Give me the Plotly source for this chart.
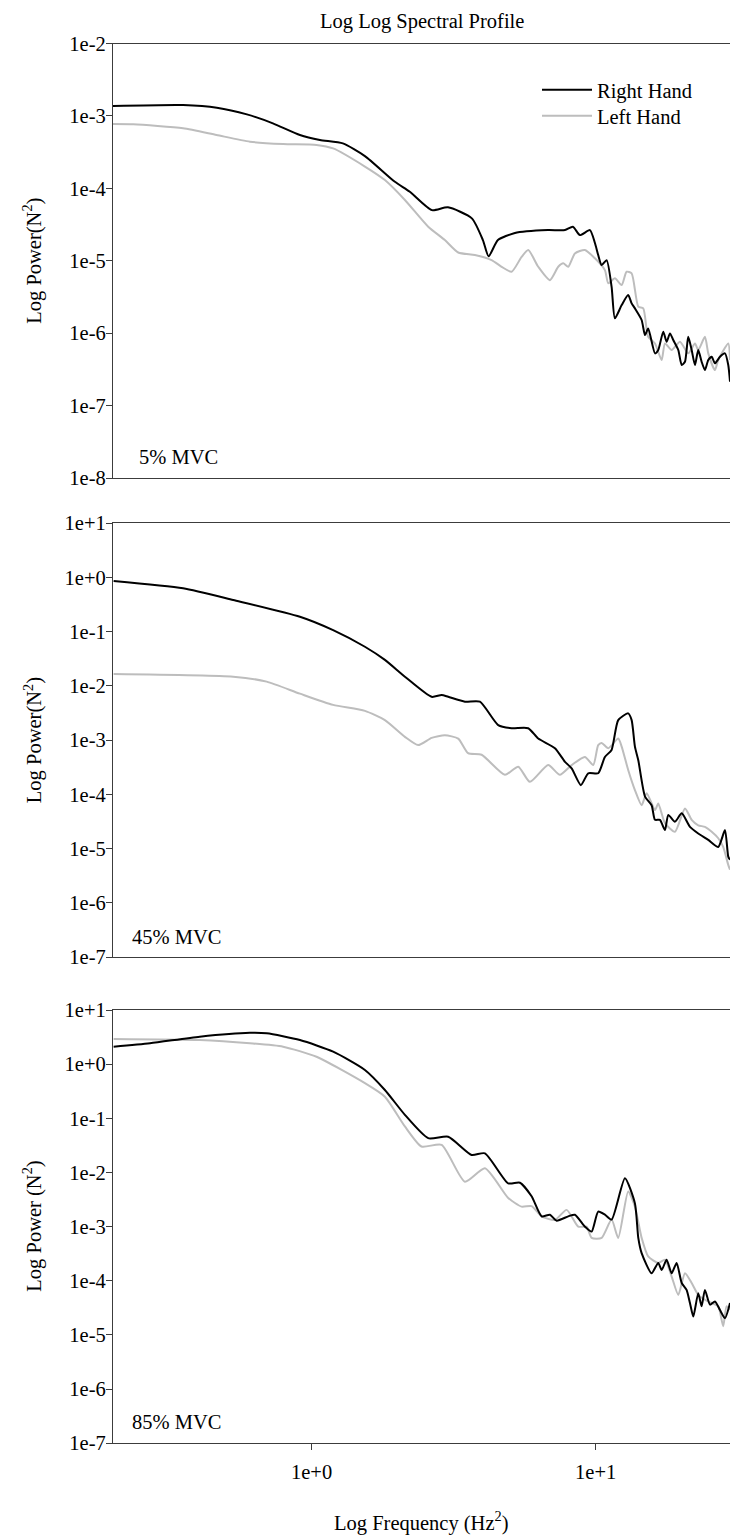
import plotly.graph_objects as go

W, H = 730, 1536
ML = 113  # left margin in px
PW = W - ML

# ---------------- data (frequency in Hz, power in N^2) ----------------
# Panel 1: 5% MVC
f5_right = [0.2, 0.353, 0.464, 0.592, 0.731, 0.910, 1.070, 1.289, 1.541, 1.965, 2.218, 2.652, 3.02, 3.667,
            4.01, 4.2, 4.529, 5.198, 6.793, 7.80, 8.318, 8.806, 9.55, 9.943, 10.21, 10.50, 10.93, 11.38,
            11.69, 12.35, 13.02, 13.39, 13.75, 14.52, 14.92, 15.31, 16.18, 16.61, 17.30, 17.78, 18.27,
            18.76, 19.54, 20.09, 20.63, 21.18, 21.78, 22.37, 22.97, 23.61, 24.25, 24.92, 25.62, 26.30,
            27.40, 28.53, 29.30, 29.72]
p5_right = [1.37e-3, 1.41e-3, 1.30e-3, 1.05e-3, 7.9e-4, 5.45e-4, 4.65e-4, 4.17e-4, 2.79e-4, 1.23e-4, 8.97e-5,
            5.0e-5, 5.47e-5, 3.85e-5, 1.93e-5, 1.15e-5, 1.93e-5, 2.42e-5, 2.65e-5, 2.65e-5, 2.95e-5, 2.26e-5,
            2.65e-5, 1.76e-5, 1.2e-5, 8.7e-6, 1.02e-5, 4.38e-6, 1.6e-6, 2.44e-6, 3.36e-6, 2.58e-6, 2.2e-6,
            1.52e-6, 9.4e-7, 1.16e-6, 5.26e-7, 5.85e-7, 1.05e-6, 7.6e-7, 9.93e-7, 8.04e-7, 5.85e-7, 3.63e-7,
            4.03e-7, 8.9e-7, 5.85e-7, 3.63e-7, 5.85e-7, 4.03e-7, 3.09e-7, 4.25e-7, 4.72e-7, 3.83e-7, 4.72e-7,
            5.26e-7, 3.63e-7, 2.14e-7]
f5_left = [0.2, 0.2355, 0.353, 0.463, 0.607, 0.794, 1.041, 1.191, 1.541, 1.812, 2.131, 2.574, 2.946, 3.283,
           3.758, 4.303, 4.666, 5.06, 5.487, 5.790, 6.280, 6.904, 7.385, 7.69, 8.009, 8.453, 9.164, 9.943,
           10.78, 11.08, 11.69, 12.35, 12.85, 13.39, 14.13, 14.71, 15.31, 16.18, 17.08, 17.54, 18.52, 19.81,
           21.18, 22.37, 22.97, 24.25, 24.92, 26.30, 27.02, 29.30, 29.72]
p5_left = [7.73e-4, 7.66e-4, 6.75e-4, 5.45e-4, 4.41e-4, 4.09e-4, 3.98e-4, 3.56e-4, 2.0e-4, 1.3e-4, 6.9e-5,
           2.95e-5, 1.93e-5, 1.3e-5, 1.2e-5, 1.02e-5, 8.26e-6, 7.05e-6, 1.13e-5, 1.41e-5, 8.26e-6, 5.4e-6,
           8.26e-6, 9.2e-6, 8.26e-6, 1.26e-5, 1.41e-5, 1.08e-5, 7.43e-6, 4.88e-6, 5.71e-6, 4.61e-6, 7.05e-6,
           6.68e-6, 2.32e-6, 2.2e-6, 8.9e-7, 7.2e-7, 4.25e-7, 7.2e-7, 5.85e-7, 7.6e-7, 5.26e-7, 7.2e-7,
           5.85e-7, 8.9e-7, 5.26e-7, 3.09e-7, 4.25e-7, 7.2e-7, 4.25e-7]

# Panel 2: 45% MVC
f45_right = [0.201, 0.353, 0.530, 0.910, 1.191, 1.541, 1.812, 2.131, 2.646, 2.869, 3.027, 3.467, 3.913, 4.539,
             5.06, 5.79, 6.28, 7.191, 7.80, 8.233, 8.873, 9.418, 10.21, 10.78, 11.38, 12.01, 13.02, 13.39,
             13.75, 14.13, 14.92, 15.74, 16.18, 16.84, 17.54, 18.02, 19.02, 20.09, 21.48, 22.97, 24.92, 27.02,
             28.53, 29.30, 29.72]
p45_right = [0.861, 0.631, 0.385, 0.189, 0.107, 0.0528, 0.0302, 0.0148, 6.3e-3, 6.8e-3, 6.3e-3, 5.13e-3,
             5.13e-3, 1.9e-3, 1.66e-3, 1.66e-3, 1.07e-3, 7.1e-4, 3.98e-4, 3.02e-4, 1.48e-4, 2.45e-4, 2.45e-4,
             4.9e-4, 6.6e-4, 2.34e-3, 3.12e-3, 2.34e-3, 7.6e-4, 4.27e-4, 9.1e-5, 6.3e-5, 3.39e-5, 3.39e-5,
             2.19e-5, 4.17e-5, 3.13e-5, 4.47e-5, 2.51e-5, 1.9e-5, 1.45e-5, 1.07e-5, 2.19e-5, 7.1e-6, 6.2e-6]
f45_left = [0.201, 0.530, 0.695, 0.910, 1.191, 1.541, 1.812, 2.131, 2.373, 2.646, 2.946, 3.283, 3.556, 3.968,
            4.793, 5.34, 5.87, 6.808, 7.48, 8.233, 9.164, 9.806, 10.21, 10.50, 11.08, 12.01, 12.35, 13.02,
            13.75, 14.52, 15.12, 16.18, 16.61, 17.54, 19.02, 20.63, 21.78, 22.97, 24.25, 25.62, 27.02, 28.12,
            29.30, 29.72]
p45_left = [0.0166, 0.0148, 0.012, 7.2e-3, 4.47e-3, 3.47e-3, 2.34e-3, 1.15e-3, 8.1e-4, 1.1e-3, 1.23e-3,
            1.07e-3, 5.75e-4, 5.37e-4, 2.29e-4, 3.24e-4, 1.7e-4, 3.47e-4, 2.29e-4, 3.47e-4, 4.9e-4, 3.47e-4,
            8.1e-4, 8.9e-4, 7.1e-4, 1.07e-3, 7.6e-4, 2.82e-4, 1.2e-4, 6.3e-5, 1.05e-4, 5.13e-5, 6.8e-5,
            2.95e-5, 2.04e-5, 5.5e-5, 3.39e-5, 2.69e-5, 2.51e-5, 2.04e-5, 1.55e-5, 1.07e-5, 5.0e-6, 4.07e-6]

# Panel 3: 85% MVC
f85_right = [0.201, 0.270, 0.404, 0.607, 0.695, 0.910, 1.191, 1.541, 1.812, 2.131, 2.574, 3.027, 3.659, 4.076,
             4.923, 5.414, 5.951, 6.456, 6.904, 7.291, 8.009, 8.453, 9.164, 9.68, 10.21, 10.78, 11.38, 12.68,
             13.75, 14.13, 14.52, 15.74, 16.61, 17.08, 17.78, 18.52, 19.28, 20.09, 20.90, 21.48, 22.07, 22.97,
             23.61, 24.25, 25.27, 26.30, 27.40, 28.53, 29.72]
p85_right = [2.10, 2.43, 3.22, 3.80, 3.72, 2.79, 1.70, 0.782, 0.334, 0.116, 0.043, 0.0457, 0.0211, 0.0226,
             6.3e-3, 6.46e-3, 3.63e-3, 1.55e-3, 1.66e-3, 1.29e-3, 1.55e-3, 1.66e-3, 1.0e-3, 8.1e-4, 1.9e-3,
             1.66e-3, 1.35e-3, 7.85e-3, 2.69e-3, 6.2e-4, 3.24e-4, 1.38e-4, 2.14e-4, 1.58e-4, 2.45e-4, 1.38e-4,
             2.14e-4, 9.1e-5, 6.8e-5, 3.89e-5, 2.19e-5, 5.9e-5, 3.39e-5, 6.8e-5, 3.63e-5, 4.17e-5, 2.88e-5,
             2.04e-5, 3.89e-5]
f85_left = [0.201, 0.404, 0.607, 0.794, 1.041, 1.541, 1.812, 2.131, 2.438, 2.869, 3.467, 4.076, 4.923, 5.487,
            5.951, 6.456, 7.191, 7.907, 8.685, 9.292, 9.68, 10.50, 11.38, 12.01, 13.02, 13.75, 14.52, 15.31,
            16.61, 17.54, 18.52, 19.54, 20.63, 21.78, 22.97, 24.25, 25.62, 27.02, 28.12, 28.91, 29.72]
p85_left = [2.92, 2.79, 2.43, 2.10, 1.37, 0.447, 0.251, 0.0708, 0.0302, 0.0324, 6.76e-3, 0.012, 3.39e-3,
            2.34e-3, 2.4e-3, 1.55e-3, 1.33e-3, 2.04e-3, 1.0e-3, 1.0e-3, 6.2e-4, 6.2e-4, 1.35e-3, 6.2e-4,
            4.47e-3, 2.34e-3, 6.2e-4, 2.82e-4, 2.14e-4, 2.45e-4, 1.2e-4, 5.5e-5, 1.38e-4, 9.1e-5, 5.5e-5,
            4.47e-5, 3.89e-5, 3.39e-5, 1.45e-5, 3.39e-5, 2.92e-5]

panel_labels = ["5% MVC", "45% MVC", "85% MVC"]
y_titles = ["Log Power(N<sup>2</sup>)", "Log Power(N<sup>2</sup>)", "Log Power (N<sup>2</sup>)"]
y_tick_exps = [[-8, -7, -6, -5, -4, -3, -2], [-7, -6, -5, -4, -3, -2, -1, 0, 1], [-7, -6, -5, -4, -3, -2, -1, 0, 1]]
x_tick_vals = [1, 10]
x_tick_text = ["1e+0", "1e+1"]
title_text = "Log Log Spectral Profile"
x_title = "Log Frequency (Hz<sup>2</sup>)"
series_names = ["Right Hand", "Left Hand"]

# ---------------- layout geometry (pixels) ----------------
panel_px = [(43.5, 478.0), (523.3, 957.0), (1010.0, 1443.3)]  # (top, bottom)
FONT = "Liberation Serif"
FS = 20.5
AX_COLOR = "#3c3c3c"
RIGHT_COLOR = "#000000"
LEFT_COLOR = "#bdbdbd"


def py(v):
    return 1 - v / H


def px(v):
    return (v - ML) / PW


def exp_label(e):
    return "1e%+d" % e if e >= 0 else "1e-%d" % (-e)


data = [
    (f5_right, p5_right, f5_left, p5_left),
    (f45_right, p45_right, f45_left, p45_left),
    (f85_right, p85_right, f85_left, p85_left),
]

fig = go.Figure()
for i, (fr, pr, fl, pl) in enumerate(data):
    sfx = "" if i == 0 else str(i + 1)
    fig.add_trace(go.Scatter(x=fl, y=pl, mode="lines", name=series_names[1],
                             line=dict(color=LEFT_COLOR, width=2, shape="spline", smoothing=0.6),
                             xaxis="x" + sfx, yaxis="y" + sfx, showlegend=(i == 0), legend="legend2"))
    fig.add_trace(go.Scatter(x=fr, y=pr, mode="lines", name=series_names[0],
                             line=dict(color=RIGHT_COLOR, width=2, shape="spline", smoothing=0.6),
                             xaxis="x" + sfx, yaxis="y" + sfx, showlegend=(i == 0), legend="legend"))

leg_common = dict(xanchor="left", yanchor="middle", bgcolor="rgba(0,0,0,0)",
                  font=dict(family=FONT, size=FS, color="black"), itemwidth=50)
layout = dict(
    width=W, height=H, autosize=False,
    margin=dict(l=ML, r=0, t=0, b=0, pad=0, autoexpand=False),
    paper_bgcolor="white", plot_bgcolor="white",
    font=dict(family=FONT, size=FS, color="black"),
    showlegend=True,
    legend=dict(x=px(537), y=py(90), **leg_common),
    legend2=dict(x=px(537), y=py(116), **leg_common),
)

for i in range(3):
    sfx = "" if i == 0 else str(i + 1)
    top, bot = panel_px[i]
    exps = y_tick_exps[i]
    last = i == 2
    layout["xaxis" + sfx] = dict(
        type="log", range=[-0.699, 1.473], domain=[0, 1], anchor="y" + sfx, automargin=False,
        showline=True, linecolor=AX_COLOR, linewidth=1.3, mirror=True,
        showgrid=False, zeroline=False,
        ticks="outside" if last else "", ticklen=6, tickcolor=AX_COLOR, tickwidth=1,
        tickvals=x_tick_vals, ticktext=x_tick_text if last else ["", ""],
        showticklabels=last, ticklabelstandoff=4,
        tickfont=dict(family=FONT, size=FS, color="black"),
    )
    layout["yaxis" + sfx] = dict(
        type="log", range=[exps[0], exps[-1]], domain=[py(bot), py(top)], anchor="x" + sfx, automargin=False,
        showline=True, linecolor=AX_COLOR, linewidth=1.3,
        showgrid=False, zeroline=False,
        ticks="outside", ticklen=6, tickcolor=AX_COLOR, tickwidth=1,
        tickvals=[10.0 ** e for e in exps], ticktext=[exp_label(e) for e in exps],
        ticklabelstandoff=-4,
        tickfont=dict(family=FONT, size=FS, color="black"),
    )

annotations = [
    dict(text=title_text, x=0.5, y=py(21), xref="paper", yref="paper", showarrow=False,
         xanchor="center", yanchor="middle", font=dict(family=FONT, size=FS, color="black")),
    dict(text=x_title, x=0.5, y=py(1521), xref="paper", yref="paper", showarrow=False,
         xanchor="center", yanchor="middle", font=dict(family=FONT, size=FS, color="black")),
]
label_pos = [(137, 457), (130, 937), (130, 1422)]
for i in range(3):
    top, bot = panel_px[i]
    annotations.append(dict(text=y_titles[i], x=px(33), y=py((top + bot) / 2), xref="paper", yref="paper",
                            showarrow=False, textangle=-90, xanchor="center", yanchor="middle",
                            font=dict(family=FONT, size=FS, color="black")))
    lx, ly = label_pos[i]
    annotations.append(dict(text=panel_labels[i], x=px(lx), y=py(ly), xref="paper", yref="paper",
                            showarrow=False, xanchor="left", yanchor="middle",
                            font=dict(family=FONT, size=FS, color="black")))
layout["annotations"] = annotations

fig.update_layout(**layout)
fig.write_html("out.html")
